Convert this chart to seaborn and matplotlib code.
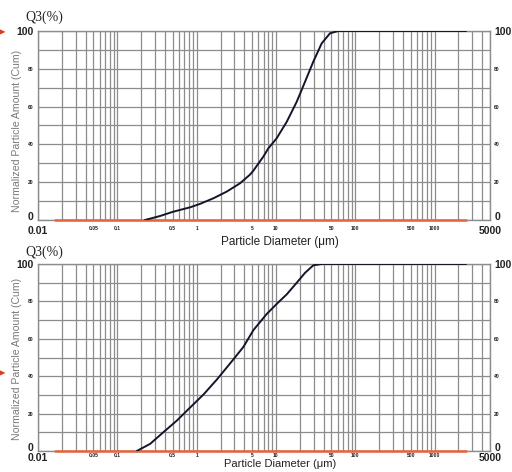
import numpy as np
import matplotlib
matplotlib.use("Agg")
import matplotlib.pyplot as plt
from matplotlib.ticker import LogLocator, NullFormatter, FixedLocator
import seaborn as sns

sns.set_style("white")
plt.rcParams['font.family'] = ['Liberation Sans', 'DejaVu Sans']

# top sample: cumulative Q3 (%) vs particle diameter (um)
top_diam = [0.223, 0.345, 0.508, 0.826, 1.1, 1.63, 2.39, 3.52, 4.71, 5.19, 6.93, 8.02,
            10.2, 13.7, 18.3, 23.3, 29.6, 37.8, 48.1, 61, 100, 500, 2500]
top_q3 = [0, 2.1, 4.4, 6.7, 8.5, 11.5, 15, 19.4, 24, 26.1, 33.5, 37.9,
          43.2, 52, 62.6, 73.2, 83.8, 93.5, 98.8, 100, 100, 100, 100]

# bottom sample
bot_diam = [0.176, 0.259, 0.38, 0.561, 0.826, 1.22, 1.79, 2.64, 3.88, 5.19, 7.66,
            10.2, 13.7, 18.3, 23.3, 29.6, 37.8, 100, 500, 2500]
bot_q3 = [0, 3.8, 10, 16.2, 23.2, 30.2, 38.1, 46.8, 55.6, 64.6, 73.3,
          78.6, 83.8, 90, 95.3, 99.3, 100, 100, 100, 100]

# frequency trace sitting on the baseline
freq_diam = [0.0164, 2500]
freq_val = [0, 0]

x_ticks = [0.01, 0.05, 0.1, 0.5, 1, 5, 10, 50, 100, 500, 1000, 5000]
x_labels = ['0.01', '0.05', '0.1', '0.5', '1', '5', '10', '50', '100', '500', '1000', '5000']
y_ticks = [0, 20, 40, 60, 80, 100]
y_labels = ['0', '20', '40', '60', '80', '100']

grid_col = '#8c8c8c'
curve_col = '#15152a'
orange = '#e8643c'

fig = plt.figure(figsize=(5.12, 4.72), dpi=100)
ax_top = fig.add_axes([38 / 512, 1 - 220 / 472, 452 / 512, 189 / 472])
ax_bot = fig.add_axes([38 / 512, 1 - 451 / 472, 452 / 512, 187 / 472])

# axes, data, Q3 title y(px), arrow y(px), xlabel y, xlabel size, xtick pad, ylabel y
panels = [(ax_top, top_diam, top_q3, 17, 32, -0.085, 8.5, 4, 0.47),
          (ax_bot, bot_diam, bot_q3, 252, 373, -0.044, 8, 1.5, 0.49)]

for ax, xs, ys, q3_y, arrow_y, xlab_y, xlab_fs, xpad, ylab_y in panels:
    ax.set_xscale('log')
    sns.lineplot(x=freq_diam, y=freq_val, ax=ax, color=orange, lw=1.8, zorder=3,
                 clip_on=False)
    sns.lineplot(x=xs, y=ys, ax=ax, color=curve_col, lw=1.4, zorder=4)
    ax.set_xlim(0.01, 5000)
    ax.set_ylim(0, 100)

    ax.xaxis.set_major_locator(FixedLocator(x_ticks))
    ax.set_xticklabels(x_labels)
    ax.xaxis.set_minor_locator(LogLocator(base=10, subs=np.arange(1, 10), numticks=50))
    ax.xaxis.set_minor_formatter(NullFormatter())
    ax.set_yticks(y_ticks)
    ax.set_yticklabels(y_labels)
    ax.yaxis.set_minor_locator(FixedLocator([10, 30, 50, 70, 90]))

    ax.grid(True, which='both', color=grid_col, lw=0.9)
    ax.set_axisbelow(True)
    for s in ax.spines.values():
        s.set_color(grid_col)
        s.set_linewidth(1.0)

    ax.tick_params(which='both', length=0)
    ax.tick_params(axis='y', labelright=True, pad=3)
    ax.tick_params(axis='x', pad=xpad)

    for i, t in enumerate(ax.xaxis.get_major_ticks()):
        if i == 0 or i == len(x_ticks) - 1:
            t.label1.set_fontsize(7.5)
        else:
            t.label1.set_fontsize(3.6)
        t.label1.set_fontweight('bold')
        t.label1.set_color('#222222')
    for i, t in enumerate(ax.yaxis.get_major_ticks()):
        big = i == 0 or i == len(y_ticks) - 1
        for lab in (t.label1, t.label2):
            lab.set_fontsize(7.5 if big else 3.6)
            lab.set_fontweight('bold')
            lab.set_color('#222222')
            if i == 0:
                lab.set_va('baseline')

    ax.set_xlabel('Particle Diameter (μm)', fontsize=xlab_fs, color='#222222')
    ax.xaxis.set_label_coords(0.535, xlab_y)
    ax.set_ylabel('Normalized Particle Amount (Cum)', fontsize=7.6, color='#7a7a7a')
    ax.yaxis.set_label_coords(-0.035, ylab_y)

    fig.text(25 / 512, 1 - q3_y / 472, 'Q3(%)', fontsize=10, ha='left', va='center',
             family=['Liberation Serif', 'DejaVu Serif'], color='#222222')
    fig.text(-1 / 512, 1 - arrow_y / 472, '▶', fontsize=6, color='#e03a20',
             ha='left', va='center', family=['DejaVu Sans'])

fig.savefig('out.png', dpi=100)
